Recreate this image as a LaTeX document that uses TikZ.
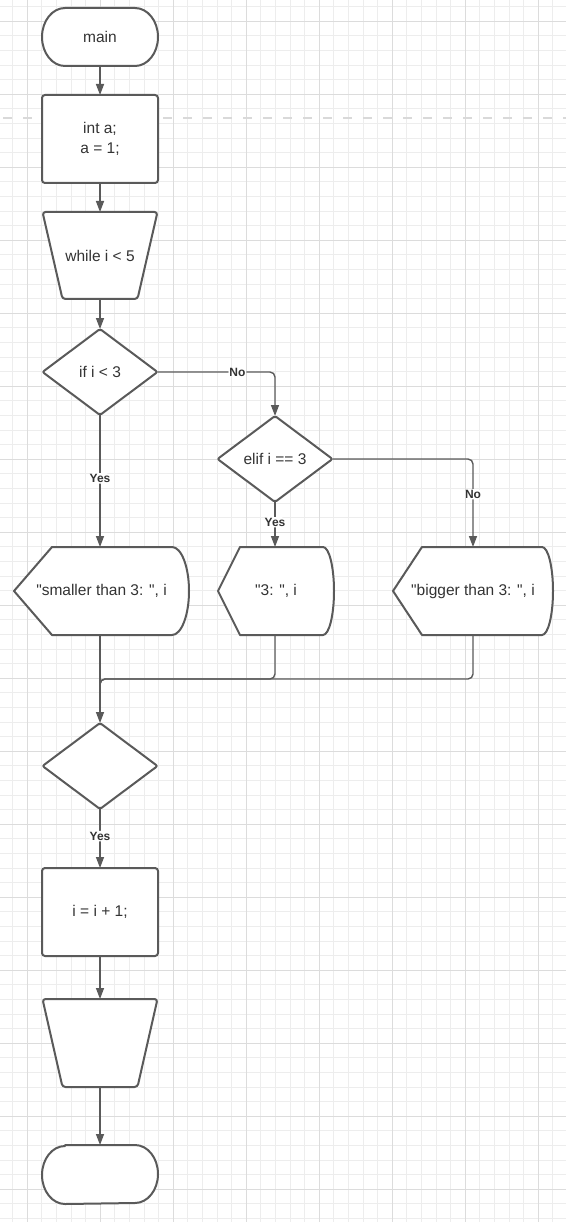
\documentclass[tikz,border=0pt]{standalone}
\usepackage{fontspec}
\setmainfont{Liberation Sans}
\usetikzlibrary{shapes.geometric,arrows.meta,calc}

\definecolor{stroke}{HTML}{5A5A5A}
\definecolor{ink}{HTML}{333333}
\definecolor{gridminor}{HTML}{EDEDED}
\definecolor{gridmajor}{HTML}{DCDCDC}
\definecolor{guide}{HTML}{D9D9D9}

\pgfdeclarelayer{bg}
\pgfsetlayers{bg,main}

\newcommand\dq{\textquotedbl}

\tikzset{
  txt/.style={text=ink, font=\fontsize{15.5}{20}\selectfont, align=center},
  slot/.style={txt, rectangle, draw=none, inner sep=0pt, outer sep=0pt},
  outline/.style={draw=stroke, line width=2pt, fill=white, line join=round},
  procbox/.style={slot, draw=stroke, line width=2pt, fill=white, rounded corners=3pt,
                  minimum width=116pt, minimum height=88pt},
  decision/.style={txt, diamond, draw=stroke, line width=2pt, fill=white, rounded corners=2pt,
                   minimum width=115pt, minimum height=86pt, inner sep=0pt, outer sep=0pt},
  flow/.style={draw=stroke, line width=1.4pt, rounded corners=5pt},
  arrowed/.style={flow, -{Triangle[length=11pt,width=8pt]}},
  tag/.style={fill=white, inner sep=1pt, text=ink, font=\fontsize{12}{14}\selectfont\bfseries},
  gminor/.style={draw=gridminor, line width=1pt},
  gmajor/.style={draw=gridmajor, line width=1pt},
}

% terminal: flat top and bottom, elliptic ends
\newcommand\drawterminal[1]{%
  \draw[outline] ([xshift=23pt]#1.north west) -- ([xshift=-23pt]#1.north east)
    arc[start angle=90,end angle=-90,x radius=23pt,y radius=29pt]
    -- ([xshift=23pt]#1.south west)
    arc[start angle=270,end angle=90,x radius=23pt,y radius=29pt] -- cycle;}

% loop limit: trapezoid narrowing downwards
\newcommand\drawlooplimit[1]{%
  \draw[outline, rounded corners=3pt] (#1.north west) -- (#1.north east)
    -- ([xshift=-20pt]#1.south east) -- ([xshift=20pt]#1.south west) -- cycle;}

% display: pointed left side, bulging right side (node, point depth, bulge)
\newcommand\drawdisplay[3]{%
  \draw[outline] (#1.west) -- ([xshift=#2]#1.north west) -- ([xshift=-#3]#1.north east)
    arc[start angle=90,end angle=-90,x radius=#3,y radius=44pt]
    -- ([xshift=#2]#1.south west) -- cycle;}

\begin{document}
\begin{tikzpicture}[x=1pt,y=-1pt]
\useasboundingbox (0,0) rectangle (566,1222);

% ---- nodes ----
\node[slot, minimum width=116pt, minimum height=58pt] (start) at (100,37) {main};
\node[procbox] (init) at (100,139) {int a;\\a = 1;};
\node[slot, minimum width=115pt, minimum height=87pt] (loop) at (100,255.5) {while i < 5};
\node[decision] (ifnode) at (100,372) {if i < 3};
\node[decision] (elif) at (275,459) {elif i == 3};
\node[slot, minimum width=175pt, minimum height=88pt] (small) at (101.5,591) {\dq smaller than 3: \dq, i};
\node[slot, minimum width=116pt, minimum height=88pt] (three) at (276,591) {\dq 3: \dq, i};
\node[slot, minimum width=160pt, minimum height=88pt] (big) at (473,591) {\dq bigger than 3: \dq, i};
\node[decision] (check) at (100,766) {};
\node[procbox] (step) at (100,912) {i = i + 1;};
\node[slot, minimum width=115pt, minimum height=88pt] (loopend) at (100,1043) {};
\node[slot, minimum width=116pt, minimum height=59pt] (stop) at (100,1174.5) {};

\coordinate (join) at (100,679);
\coordinate (joinbelow) at (100,695);

% ---- background: grid, guide line, outlined shapes ----
\begin{pgfonlayer}{bg}
  \fill[white] (0,0) rectangle (566,1222);
  \begin{scope}
    \clip (0,0) rectangle (566,1222);
    \foreach \k in {-2,...,38} {
      \pgfmathsetmacro\xx{27.3+14.6*\k}
      \draw[gminor] (\xx,0) -- (\xx,1222);
    }
    \foreach \k in {-2,...,84} {
      \pgfmathsetmacro\yy{21.3+14.6*\k}
      \draw[gminor] (0,\yy) -- (566,\yy);
    }
    \foreach \k in {-1,...,8} {
      \pgfmathsetmacro\xx{27.3+73*\k}
      \draw[gmajor] (\xx,0) -- (\xx,1222);
    }
    \foreach \k in {-1,...,17} {
      \pgfmathsetmacro\yy{21.3+73*\k}
      \draw[gmajor] (0,\yy) -- (566,\yy);
    }
  \end{scope}
  \draw[guide, line width=2.5pt, dash pattern=on 9pt off 11pt] (3,118) -- (566,118);

  \drawterminal{start}
  \drawterminal{stop}
  \drawlooplimit{loop}
  \drawlooplimit{loopend}
  \drawdisplay{small}{38pt}{17pt}
  \drawdisplay{three}{22pt}{11pt}
  \drawdisplay{big}{29pt}{11pt}
\end{pgfonlayer}

% ---- connectors ----
\draw[arrowed] (start.south) -- (init.north);
\draw[arrowed] (init.south) -- (loop.north);
\draw[arrowed] (loop.south) -- (ifnode.north);
\draw[arrowed] (ifnode.east) -| node[tag, pos=0.34] {No} (elif.north);
\draw[arrowed] (ifnode.south) -- node[tag, pos=0.48] {Yes} (ifnode.south |- small.north);
\draw[arrowed] (elif.south) -- node[tag, pos=0.45] {Yes} (elif.south |- three.north);
\draw[arrowed] (elif.east) -| node[tag, pos=0.7] {No} (big.north);
\draw[flow] (elif.south |- three.south) |- (join) -- (joinbelow);
\draw[flow] (big.south) |- (join) -- (joinbelow);
\draw[arrowed] (ifnode.south |- small.south) -- (check.north);
\draw[arrowed] (check.south) -- node[tag, pos=0.46] {Yes} (step.north);
\draw[arrowed] (step.south) -- (loopend.north);
\draw[arrowed] (loopend.south) -- (stop.north);
\end{tikzpicture}
\end{document}
